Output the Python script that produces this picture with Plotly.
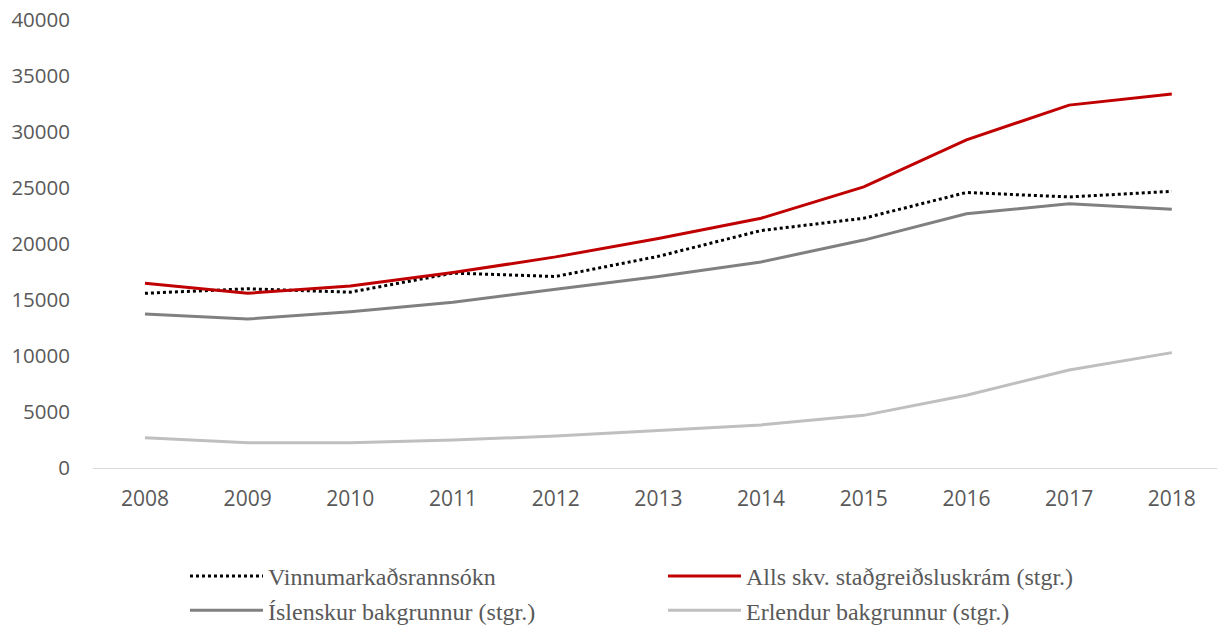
import plotly.graph_objects as go

years = ["2008", "2009", "2010", "2011", "2012", "2013", "2014", "2015", "2016", "2017", "2018"]
vinnumarkad = [15600, 16000, 15700, 17400, 17100, 18900, 21200, 22300, 24600, 24200, 24700]
alls = [16500, 15600, 16250, 17450, 18850, 20500, 22300, 25100, 29300, 32400, 33400]
islenskur = [13750, 13300, 13950, 14800, 15950, 17100, 18400, 20350, 22700, 23600, 23100]
erlendur = [2700, 2250, 2250, 2500, 2850, 3350, 3850, 4700, 6500, 8750, 10300]

fig = go.Figure()
fig.add_trace(go.Scatter(x=years, y=vinnumarkad, name="Vinnumarkaðsrannsókn", mode="lines",
                         line=dict(color="#000000", width=3, dash="dot")))
fig.add_trace(go.Scatter(x=years, y=alls, name="Alls skv. staðgreiðsluskrám (stgr.)", mode="lines",
                         line=dict(color="#C00000", width=3)))
fig.add_trace(go.Scatter(x=years, y=islenskur, name="Íslenskur bakgrunnur (stgr.)", mode="lines",
                         line=dict(color="#808080", width=3)))
fig.add_trace(go.Scatter(x=years, y=erlendur, name="Erlendur bakgrunnur (stgr.)", mode="lines",
                         line=dict(color="#BFBFBF", width=3)))

fig.update_layout(
    width=1217, height=625,
    margin=dict(l=93, r=0, t=20, b=157, autoexpand=False),
    paper_bgcolor="white", plot_bgcolor="white",
    font=dict(family="Open Sans, Lato, sans-serif", size=21, color="#595959"),
    xaxis=dict(type="category", range=[-0.506, 10.44], showgrid=False, zeroline=False,
               showline=True, linecolor="#D9D9D9", linewidth=1, ticks="", automargin=False,
               tickfont=dict(size=21, color="#595959"), ticklabelstandoff=12),
    yaxis=dict(range=[0, 40000], dtick=5000, tickformat="d", showgrid=False, zeroline=False,
               showline=False, automargin=False, ticklabeloverflow="allow",
               tickfont=dict(size=20.5, color="#595959"), ticklabelstandoff=22),
    showlegend=True,
    legend=dict(orientation="h", xref="container", yref="container",
                x=0.152, xanchor="left", y=1 - 554 / 625, yanchor="top",
                font=dict(family="Liberation Serif, serif", size=24, color="#595959"),
                entrywidth=390, entrywidthmode="pixels", itemwidth=73,
                tracegroupgap=0, bgcolor="rgba(0,0,0,0)"),
)

fig.write_html("out.html", config={"displayModeBar": False},
               post_script="document.body.style.margin='0';")
